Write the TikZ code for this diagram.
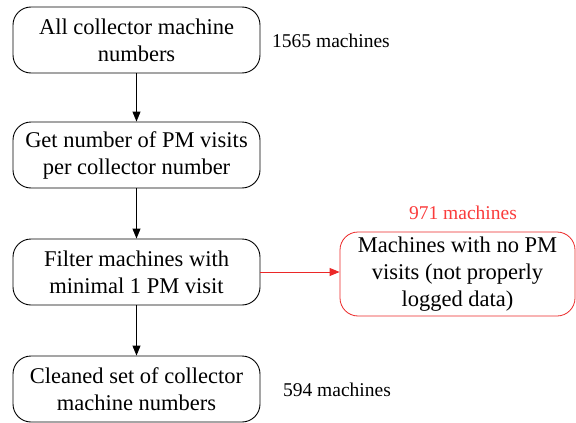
\documentclass[tikz,border=0pt]{standalone}
\usepackage{fontspec}
\setmainfont{Liberation Serif}
\usetikzlibrary{arrows.meta}
\definecolor{redline}{RGB}{235,40,40}
\definecolor{redtext}{RGB}{250,60,60}
\begin{document}
\begin{tikzpicture}[x=1pt,y=-1pt,
  stepbox/.style={draw=black, rounded corners=18pt, line width=0.9pt, minimum width=247pt, minimum height=66pt, align=center, font=\fontsize{22.5}{27}\selectfont, inner sep=2pt},
  redbox/.style={stepbox, draw=redline, line width=0.8pt, minimum width=235pt, minimum height=84pt},
  lbl/.style={font=\fontsize{19.5}{22}\selectfont},
  conn/.style={-{Triangle[length=10pt,width=8pt]}, line width=0.9pt}]
\useasboundingbox (0,0) rectangle (576,423);
\node[stepbox] (a) at (136.5,40) {All collector machine\\numbers};
\node[stepbox] (b) at (136.5,155) {Get number of PM visits\\per collector number};
\node[stepbox] (c) at (136.5,272) {Filter machines with\\minimal 1 PM visit};
\node[stepbox] (d) at (136.5,389) {Cleaned set of collector\\machine numbers};
\node[redbox] (e) at (457.5,274) {Machines with no PM\\visits (not properly\\logged data)};
\node[lbl] (la) at (331,41) {1565 machines};
\node[lbl] (ld) at (337,390) {594 machines};
\node[lbl, text=redtext] (le) at (463,213) {971 machines};
\draw[conn] (a) -- (b);
\draw[conn] (b) -- (c);
\draw[conn] (c) -- (d);
\draw[conn, draw=redline, fill=redline] (c.east) -- (c.east -| e.west);
\end{tikzpicture}
\end{document}
